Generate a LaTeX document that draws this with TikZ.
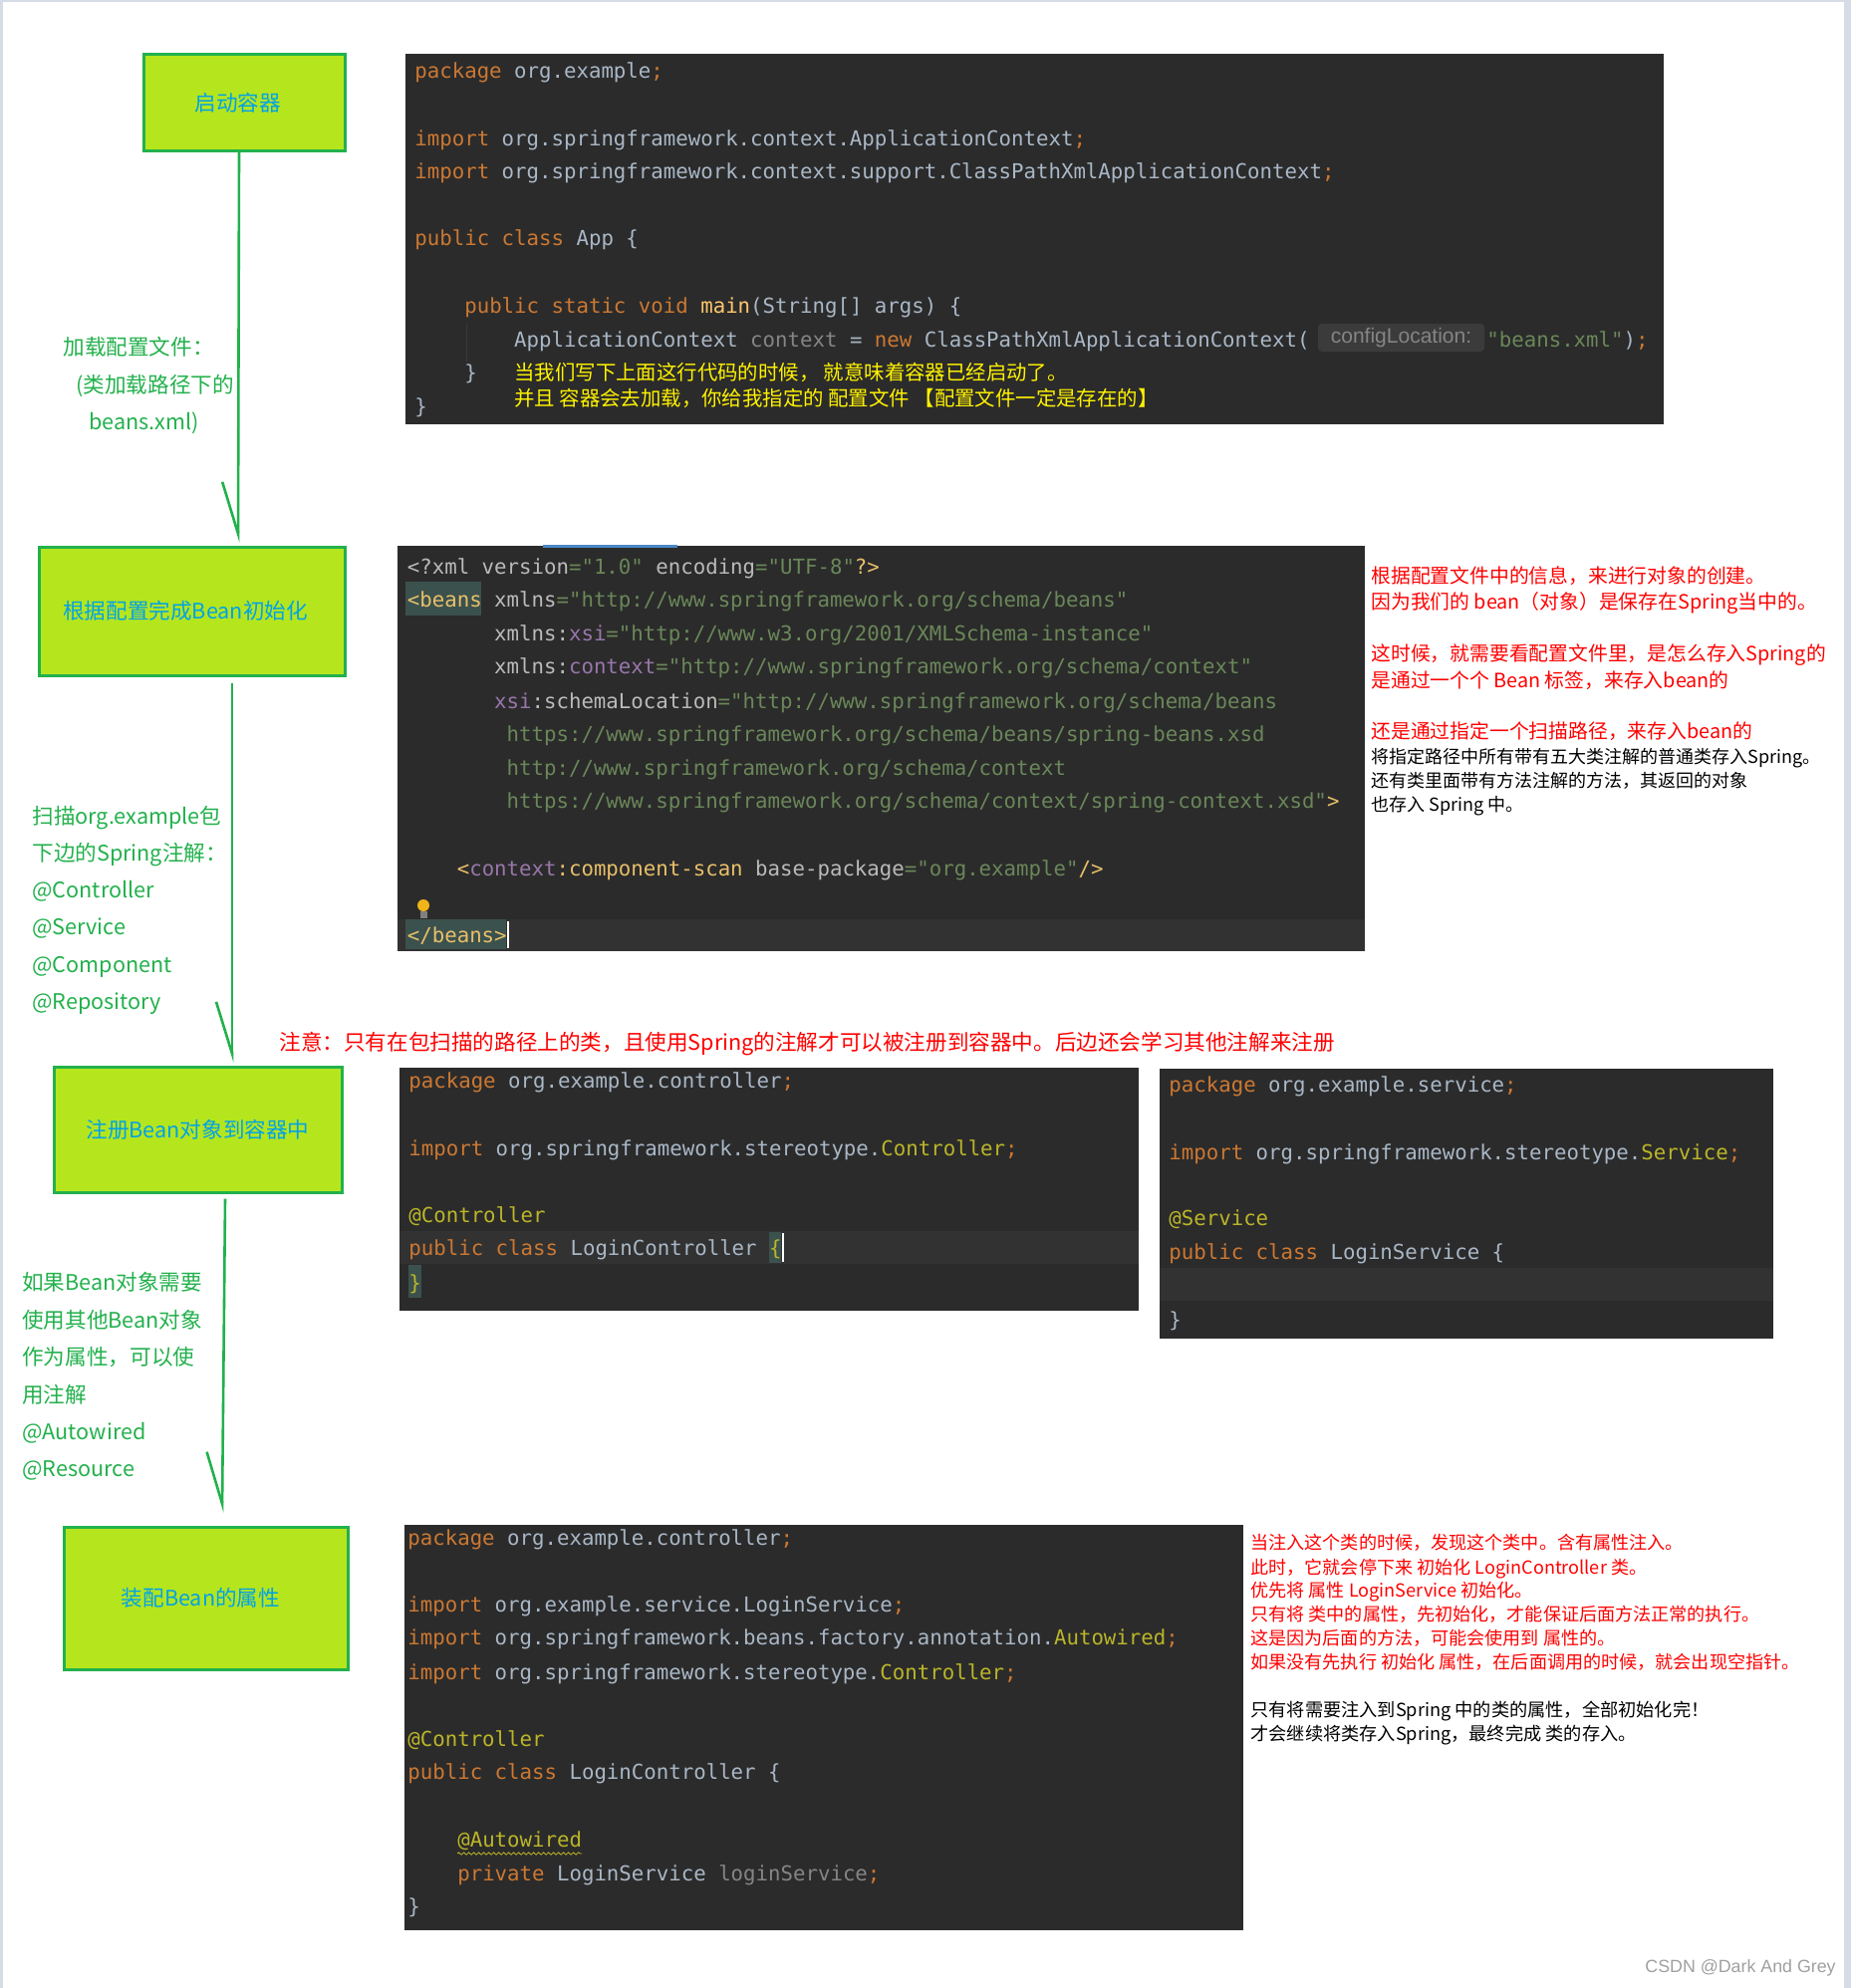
\documentclass[tikz,border=0pt]{standalone}
\usepackage{fontspec}
\usetikzlibrary{calc,arrows.meta,decorations.pathmorphing}
\newfontfamily\cjk{Noto Sans CJK SC}
\newfontfamily\codefont{DejaVu Sans Mono}[Ligatures=TeXOff]
\newfontfamily\wmfont{Liberation Sans}
\definecolor{boxfill}{HTML}{B5E61D}
\definecolor{boxline}{HTML}{22B14C}
\definecolor{boxtext}{HTML}{00A2E8}
\definecolor{codebg}{HTML}{2B2B2B}
\definecolor{ckw}{HTML}{CC7832}
\definecolor{ctxt}{HTML}{A9B7C6}
\definecolor{cstr}{HTML}{6A8759}
\definecolor{cann}{HTML}{BBB529}
\definecolor{ctag}{HTML}{E8BF6A}
\definecolor{catt}{HTML}{BABABA}
\definecolor{cns}{HTML}{9876AA}
\definecolor{cgrey}{HTML}{858585}
\definecolor{cmeth}{HTML}{FFC66D}
\definecolor{rowhl}{HTML}{323232}
\definecolor{taghl}{HTML}{3B514D}
\definecolor{hintbg}{HTML}{3B3B3B}
\definecolor{pageframe}{HTML}{D6DCE6}
\definecolor{notered}{HTML}{FF0000}
\definecolor{tabblue}{HTML}{4A88C7}
\definecolor{bulb}{HTML}{F0B41A}
\definecolor{wmgrey}{HTML}{A0A0A0}
\newcommand\Kw[1]{\textcolor{ckw}{#1}}
\newcommand\Str[1]{\textcolor{cstr}{#1}}
\newcommand\An[1]{\textcolor{cann}{#1}}
\newcommand\Tg[1]{\textcolor{ctag}{#1}}
\newcommand\Ns[1]{\textcolor{cns}{#1}}
\newcommand\Gr[1]{\textcolor{cgrey}{#1}}
\begin{document}
\begin{tikzpicture}[x=0.5pt,y=-0.5pt,
  box/.style={draw=boxline, line width=1.5pt, fill=boxfill, text=boxtext,
    font=\cjk\fontsize{10.8}{12}\selectfont, inner sep=0pt},
  lbl/.style={anchor=mid west, inner sep=0pt, text=boxline, yshift=-2pt,
    font=\cjk\fontsize{10.8}{12}\selectfont},
  flow/.style={draw=boxline, line width=1.3pt,
    -{Straight Barb[right, length=26pt, width=16pt]}},
  code/.style={anchor=mid west, inner sep=0pt, text=ctxt, yshift=-2.2pt,
    font=\codefont\fontsize{10.36}{12}\selectfont},
  xml/.style={code, text=catt},
  cjkcode/.style={anchor=mid west, inner sep=0pt, text=yellow, yshift=-2pt,
    font=\cjk\fontsize{10.2}{12}\selectfont},
  rednote/.style={anchor=mid west, inner sep=0pt, text=notered, yshift=-2pt,
    font=\cjk\fontsize{9.9}{12}\selectfont},
  blknote/.style={anchor=mid west, inner sep=0pt, text=black, yshift=-2pt,
    font=\cjk\fontsize{9}{12}\selectfont},
  rednote2/.style={anchor=mid west, inner sep=0pt, text=notered, yshift=-2pt,
    font=\cjk\fontsize{9.05}{12}\selectfont},
  blknote2/.style={anchor=mid west, inner sep=0pt, text=black, yshift=-2pt,
    font=\cjk\fontsize{9.1}{12}\selectfont}
]
\useasboundingbox (0,0) rectangle (1858,1996);
\fill[white] (0,0) rectangle (1858,1996);
\fill[pageframe] (0,0) rectangle (3,1996);
\fill[pageframe] (0,0) rectangle (1858,2);
\fill[pageframe] (1851,0) rectangle (1858,1996);

% ---------------- flow boxes ----------------
\node[box, minimum width=101pt, minimum height=48pt] (b1) at (245,103) {\hspace*{-6.4pt}启动容器};
\node[box, minimum width=153.5pt, minimum height=64.5pt] (b2) at (192.5,613.5) {\hspace*{-6.4pt}根据配置完成Bean初始化};
\node[box, minimum width=144.5pt, minimum height=63pt] (b3) at (198.5,1134) {注册Bean对象到容器中};
\node[box, minimum width=142.5pt, minimum height=71.5pt] (b4) at (206.5,1604.5) {\hspace*{-5pt}装配Bean的属性};

\draw[flow] ($(b1.south)+(-5,0)$) -- ($(b2.north)+(46.5,-3)$);
\draw[flow] ($(b2.south)+(40.5,6)$) -- ($(b3.north)+(34.5,-3)$);
\draw[flow] ($(b3.south)+(27.5,5)$) -- ($(b4.north)+(16.5,-13)$);

% ---------------- left labels ----------------
\node[lbl] (l1a) at (63,348) {加载配置文件：};
\node[lbl] (l1b) at (76,386) {(类加载路径下的};
\node[lbl] (l1c) at (89,423) {beans.xml)};

\node[lbl] (l2a) at (32,819) {扫描org.example包};
\node[lbl] (l2b) at (32,856) {下边的Spring注解：};
\node[lbl] (l2c) at (32,893) {@Controller};
\node[lbl] (l2d) at (32,930) {@Service};
\node[lbl] (l2e) at (32,968) {@Component};
\node[lbl] (l2f) at (32,1005) {@Repository};

\node[lbl] (l3a) at (22,1287) {如果Bean对象需要};
\node[lbl] (l3b) at (22,1325) {使用其他Bean对象};
\node[lbl] (l3c) at (22,1362) {作为属性，可以使};
\node[lbl] (l3d) at (22,1400) {用注解};
\node[lbl] (l3e) at (22,1437) {@Autowired};
\node[lbl] (l3f) at (22,1474) {@Resource};

% ---------------- panel 1 ----------------
\fill[codebg] (407,54) rectangle (1670,426);
\draw[hintbg, line width=0.5pt] (468,325) -- (468,363);
\node[code] (p1a) at (416,70) {\Kw{package} org.example\Kw{;}};
\node[code] (p1b) at (416,137.5) {\Kw{import} org.springframework.context.ApplicationContext\Kw{;}};
\node[code] (p1c) at (416,170.5) {\Kw{import} org.springframework.context.support.ClassPathXmlApplicationContext\Kw{;}};
\node[code] (p1d) at (416,238) {\Kw{public class} App \{};
\node[code] (p1e) at (465.9,305.4) {\Kw{public static void} \textcolor{cmeth}{main}(String[] args) \{};
\node[code] (p1f) at (515.8,339.8) {ApplicationContext \Gr{context} = \Kw{new} ClassPathXmlApplicationContext(};
\node[fill=hintbg, rounded corners=2pt, minimum width=83.5pt, minimum height=14pt,
  inner sep=0pt, text=cgrey, font=\wmfont\fontsize{10.5}{12}\selectfont] (hint) at (1406.5,339) {configLocation:};
\node[code] (p1g) at (1492,339.8) {\Str{"beans.xml"})\Kw{;}};
\node[code] (p1h) at (465.9,372.9) {\}};
\node[code] (p1i) at (416,407) {\}};
\node[cjkcode] (p1j) at (516,372.9) {当我们写下上面这行代码的时候，\ 就意味着容器已经启动了。};
\node[cjkcode] (p1k) at (516,399.6) {并且\ 容器会去加载，你给我指定的\ 配置文件\ 【配置文件一定是存在的】};

% ---------------- panel 2 ----------------
\fill[codebg] (399,548) rectangle (1370,955);
\draw[tabblue, line width=1.5pt] (545,548) -- (680,548);
\fill[rowhl] (399,923) rectangle (1370,955);
\fill[taghl] (407,584) rectangle (483.3,618);
\fill[taghl] (407,923) rectangle (508.3,953);
\node[xml] (p2a) at (408.5,567.6) {<?xml version\Str{="1.0"} encoding\Str{="UTF-8"}\Tg{?>}};
\node[xml] (p2b) at (408.5,600.7) {\Tg{<beans} xmlns\Str{="http://www.springframework.org/schema/beans"}};
\node[xml] (p2c) at (495.8,635) {xmlns:\Ns{xsi}\Str{="http://www.w3.org/2001/XMLSchema-instance"}};
\node[xml] (p2d) at (495.8,668) {xmlns:\Ns{context}\Str{="http://www.springframework.org/schema/context"}};
\node[xml] (p2e) at (495.8,702.5) {\Ns{xsi}:schemaLocation\Str{="http://www.springframework.org/schema/beans}};
\node[xml] (p2f) at (508.3,735.6) {\Str{https://www.springframework.org/schema/beans/spring-beans.xsd}};
\node[xml] (p2g) at (508.3,770) {\Str{http://www.springframework.org/schema/context}};
\node[xml] (p2h) at (508.3,803) {\Str{https://www.springframework.org/schema/context/spring-context.xsd"}\Tg{>}};
\node[xml] (p2i) at (458.4,870.5) {\Tg{<}\Ns{context}\Tg{:component-scan} base-package\Str{="org.example"}\Tg{/>}};
\node[xml] (p2j) at (408.5,938) {\Tg{</beans>}};
\draw[white, line width=1pt] (509.5,925) -- (509.5,952);
\fill[bulb] (425,909) circle[radius=6];
\fill[gray] (421.5,915) rectangle (428.5,922);

% ---------------- notes right of panel 2 ----------------
\node[rednote] (n1) at (1376,577) {根据配置文件中的信息，来进行对象的创建。};
\node[rednote] (n2) at (1376,603) {因为我们的 bean（对象）是保存在Spring当中的。};
\node[rednote] (n3) at (1376,655) {这时候，就需要看配置文件里，是怎么存入Spring的};
\node[rednote] (n4) at (1376,682) {是通过一个个 Bean 标签，来存入bean的};
\node[rednote] (n5) at (1376,733) {还是通过指定一个扫描路径，来存入bean的};
\node[blknote] (n6) at (1376,758) {将指定路径中所有带有五大类注解的普通类存入Spring。};
\node[blknote] (n7) at (1376,782) {还有类里面带有方法注解的方法，其返回的对象};
\node[blknote] (n8) at (1376,806) {也存入 Spring 中。};

% ---------------- red remark ----------------
\node[anchor=mid west, inner sep=0pt, text=notered, yshift=-2pt, font=\cjk\fontsize{10.8}{13}\selectfont] (remark) at (280,1046)
  {注意：只有在包扫描的路径上的类，且使用Spring的注解才可以被注册到容器中。后边还会学习其他注解来注册};

% ---------------- panel 3 ----------------
\fill[codebg] (401,1072) rectangle (1143,1316);
\fill[rowhl] (401,1236) rectangle (1143,1269);
\fill[taghl] (771.6,1237) rectangle (784,1268);
\fill[taghl] (410,1270) rectangle (422.5,1303);
\node[code] (p3a) at (410,1084) {\Kw{package} org.example.controller\Kw{;}};
\node[code] (p3b) at (410,1152) {\Kw{import} org.springframework.stereotype.\An{Controller}\Kw{;}};
\node[code] (p3c) at (410,1219) {\An{@Controller}};
\node[code] (p3d) at (410,1252) {\Kw{public class} LoginController \An{\{}};
\node[code] (p3e) at (410,1287) {\An{\}}};
\draw[white, line width=1pt] (785.5,1238) -- (785.5,1267);

% ---------------- panel 4 ----------------
\fill[codebg] (1164,1073) rectangle (1780,1344);
\fill[rowhl] (1164,1273) rectangle (1780,1306);
\node[code] (p4a) at (1173,1088) {\Kw{package} org.example.service\Kw{;}};
\node[code] (p4b) at (1173,1155.5) {\Kw{import} org.springframework.stereotype.\An{Service}\Kw{;}};
\node[code] (p4c) at (1173,1222) {\An{@Service}};
\node[code] (p4d) at (1173,1256) {\Kw{public class} LoginService \{};
\node[code] (p4e) at (1173,1323.5) {\}};

% ---------------- panel 5 ----------------
\fill[codebg] (406,1531) rectangle (1248,1938);
\node[code] (p5a) at (409,1542.4) {\Kw{package} org.example.controller\Kw{;}};
\node[code] (p5b) at (409,1609.8) {\Kw{import} org.example.service.LoginService\Kw{;}};
\node[code] (p5c) at (409,1643) {\Kw{import} org.springframework.beans.factory.annotation.\An{Autowired}\Kw{;}};
\node[code] (p5d) at (409,1677.3) {\Kw{import} org.springframework.stereotype.\An{Controller}\Kw{;}};
\node[code] (p5e) at (409,1744.7) {\An{@Controller}};
\node[code] (p5f) at (409,1777.8) {\Kw{public class} LoginController \{};
\node[code] (p5g) at (458.9,1845.3) {\An{@Autowired}};
\draw[cann, line width=0.4pt, decorate, decoration={snake, amplitude=0.6pt, segment length=2.5pt}] (459,1861) -- (584,1861);
\node[code] (p5h) at (458.9,1879.6) {\Kw{private} LoginService \Gr{loginService}\Kw{;}};
\node[code] (p5i) at (409,1912.7) {\}};

% ---------------- notes right of panel 5 ----------------
\node[rednote2] (m1) at (1255,1547) {当注入这个类的时候，发现这个类中。含有属性注入。};
\node[rednote2] (m2) at (1255,1572) {此时，它就会停下来 初始化 LoginController 类。};
\node[rednote2] (m3) at (1255,1595) {优先将 属性 LoginService 初始化。};
\node[rednote2] (m4) at (1255,1619) {只有将 类中的属性，先初始化，才能保证后面方法正常的执行。};
\node[rednote2] (m5) at (1255,1643) {这是因为后面的方法，可能会使用到 属性的。};
\node[rednote2] (m6) at (1255,1667) {如果没有先执行 初始化 属性，在后面调用的时候，就会出现空指针。};
\node[blknote2] (m7) at (1255,1715) {只有将需要注入到Spring 中的类的属性，全部初始化完！};
\node[blknote2] (m8) at (1255,1739) {才会继续将类存入Spring，最终完成 类的存入。};

% ---------------- watermark ----------------
\node[inner sep=0pt, text=wmgrey, font=\wmfont\fontsize{8.9}{11}\selectfont] (wm) at (1747,1976) {CSDN @Dark And Grey};
\end{tikzpicture}
\end{document}
